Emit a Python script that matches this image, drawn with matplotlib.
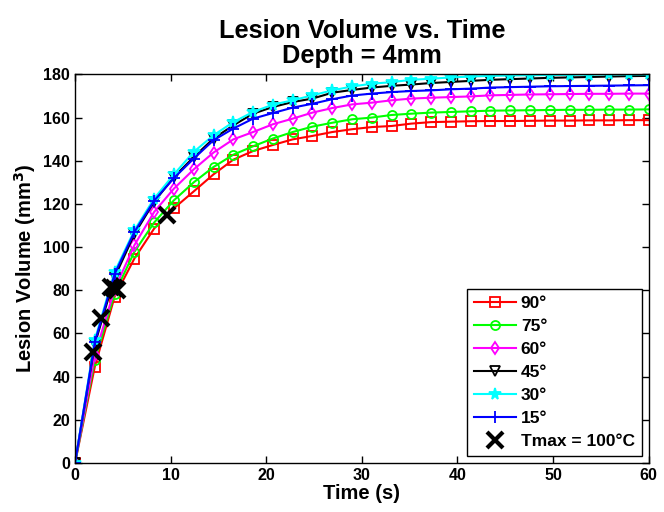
import numpy as np
import matplotlib
matplotlib.use("Agg")
import matplotlib.pyplot as plt

plt.rcParams['font.family'] = ['Liberation Sans', 'DejaVu Sans']
plt.rcParams['font.weight'] = 'bold'

time = np.linspace(0, 60, 30)

vol_90 = [0, 44.6, 77, 94.7, 108.6, 118, 125.8, 133.7, 140.5, 144.5, 147.3, 149.9, 151.5, 153.3, 154.6,
          155.6, 156.1, 157.2, 157.9, 158.1, 158.3, 158.4, 158.4, 158.5, 158.6, 158.6, 158.7, 158.7, 158.8, 158.8]
vol_75 = [0, 47.7, 78.5, 97.8, 111.4, 121.7, 130, 137.1, 142.8, 146.7, 150.3, 153.3, 155.8, 157.6, 159.2,
          160, 161.2, 161.8, 162.3, 162.6, 162.9, 163.2, 163.3, 163.4, 163.5, 163.6, 163.6, 163.7, 163.7, 163.8]
vol_60 = [0, 50, 80.5, 100.9, 116.3, 127.1, 136, 143.8, 149.9, 153.3, 156.9, 159.5, 162.3, 164.4, 166.1,
          166.9, 168, 168.8, 169.2, 169.5, 169.8, 170.3, 170.5, 170.7, 170.8, 170.9, 171, 171, 171.1, 171.1]
vol_45 = [0, 55, 86, 106, 121, 132.5, 141.7, 150.3, 156.4, 161.8, 164.9, 167.2, 168.8, 171.5, 172.8,
          173.9, 174.7, 175.3, 176, 176.5, 177, 177.5, 177.8, 178.1, 178.4, 178.6, 178.8, 179, 179.2, 179.3]
vol_30 = [0, 57, 88.5, 107.8, 122.5, 133.7, 144.1, 151.8, 157.9, 162.6, 166, 168, 170.3, 172.6, 174.4,
          175.7, 176.4, 177.5, 178, 178.6, 179, 179.3, 179.5, 179.6, 179.7, 179.8, 179.9, 180, 180, 180]
vol_15 = [0, 56, 87.5, 107, 121.5, 132, 141, 149.5, 154.9, 159.5, 162.1, 164.6, 166.4, 168.5, 170.2,
          171.1, 171.8, 172.3, 172.6, 173.1, 173.4, 173.9, 174.1, 174.3, 174.5, 174.6, 174.7, 174.8, 174.9, 175]

tmax_time = [1.9, 2.7, 3.8, 4.1, 4.4, 9.6]
tmax_vol = [51.5, 67, 81.5, 81, 80, 115]

labels = ['90°', '75°', '60°', '45°', '30°', '15°']
tmax_label = 'Tmax = 100°C'

series = [vol_90, vol_75, vol_60, vol_45, vol_30, vol_15]
colors = ['#ff0000', '#00ff00', '#ff00ff', '#000000', '#00ffff', '#0000ff']
markers = ['s', 'o', 'd', 'v', '*', '+']
msizes = [6.5, 6.5, 6.5, 6.5, 8.5, 8.5]

fig = plt.figure(figsize=(6.64, 5.12), dpi=100)
ax = fig.add_axes([0.113, 0.0957, 0.864, 0.759])

for vals, c, m, ms, lab in zip(series, colors, markers, msizes, labels):
    if m in ('*', '+'):
        ax.plot(time, vals, color=c, marker=m, markersize=ms, linewidth=1.5,
                markeredgewidth=1.3, label=lab)
    else:
        ax.plot(time, vals, color=c, marker=m, markersize=ms, linewidth=1.5,
                markerfacecolor='none', markeredgecolor=c, markeredgewidth=1.3, label=lab)

ax.plot(tmax_time, tmax_vol, linestyle='none', marker='x', color='black',
        markersize=12, markeredgewidth=3, label=tmax_label)

ax.set_xlim(0, 60)
ax.set_ylim(0, 180)
ax.set_xticks(np.arange(0, 61, 10))
ax.set_yticks(np.arange(0, 181, 20))
ax.tick_params(direction='in', top=True, right=True, labelsize=11.5, length=5, width=1)
for lbl in ax.get_xticklabels() + ax.get_yticklabels():
    lbl.set_fontweight('bold')
for sp in ax.spines.values():
    sp.set_linewidth(1)

ax.set_xlabel('Time (s)', fontsize=14.5, fontweight='bold', labelpad=1)
ax.set_ylabel('Lesion Volume (mm$^\\mathbf{3}$)', fontsize=14.5, fontweight='bold', labelpad=4)
ax.set_title('Lesion Volume vs. Time\nDepth = 4mm', fontsize=18.3, fontweight='bold', pad=8,
             linespacing=1.05)

leg = ax.legend(loc='lower right', numpoints=1, fancybox=False, framealpha=1,
                edgecolor='black', prop={'weight': 'bold', 'size': 12.5},
                handlelength=2.4, handletextpad=0.3, labelspacing=0.45,
                borderaxespad=0.4, borderpad=0.4)
leg.get_frame().set_linewidth(1)

fig.savefig('out.png', dpi=100)
